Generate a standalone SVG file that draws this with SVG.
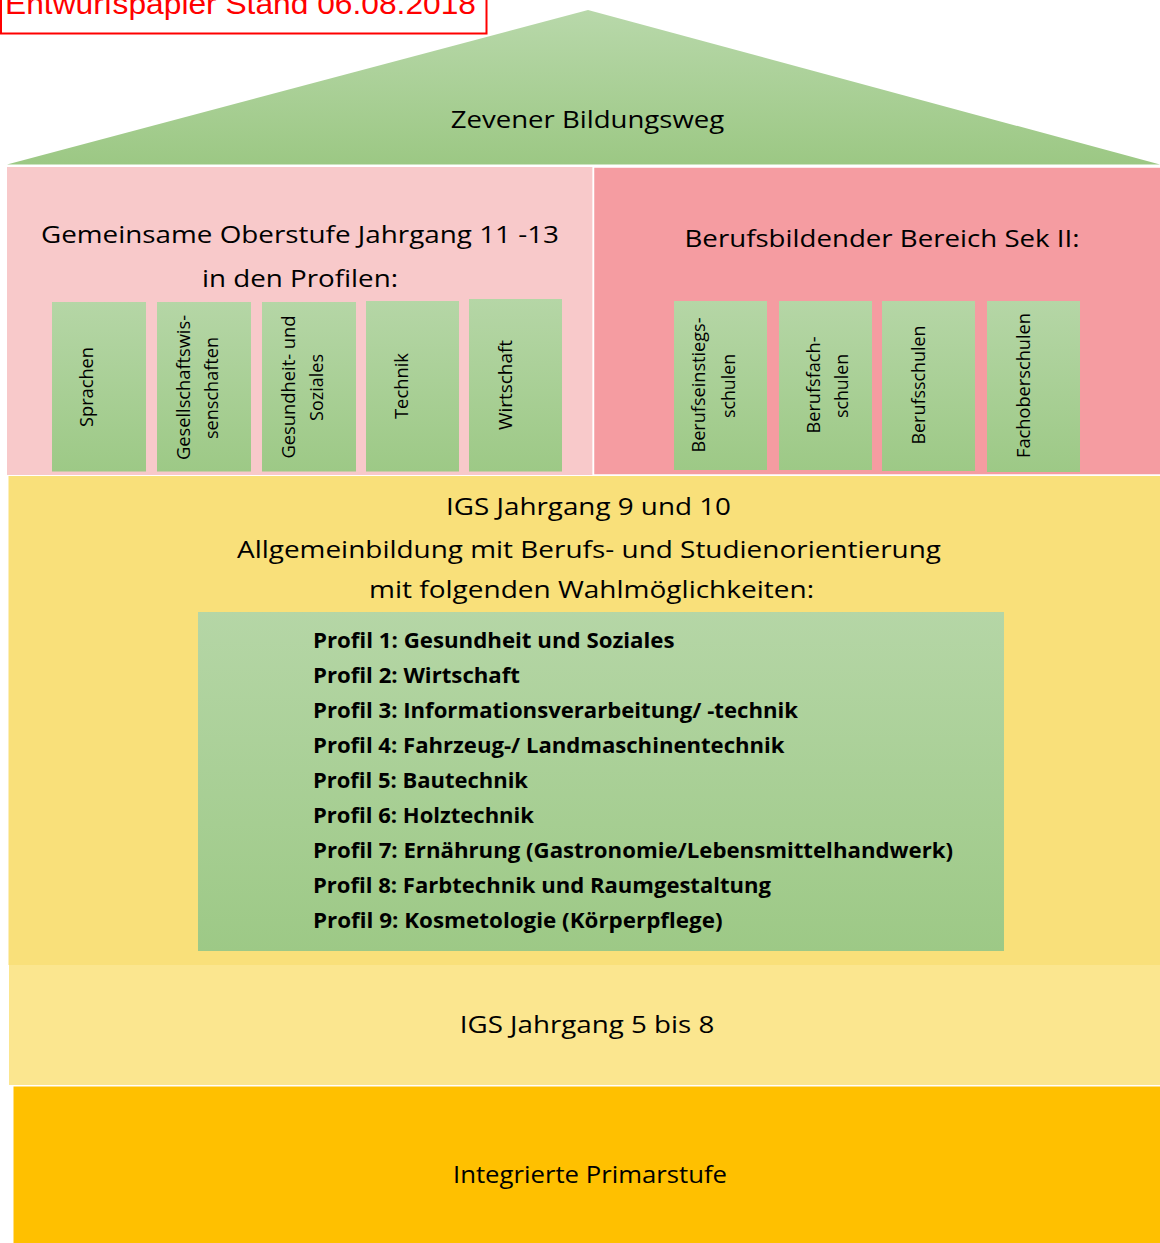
<svg xmlns="http://www.w3.org/2000/svg" width="1160" height="1243" viewBox="0 0 1160 1243">
  <defs>
    <linearGradient id="gTri" x1="0" y1="0" x2="0" y2="1">
      <stop offset="0" stop-color="#b8d8aa"/>
      <stop offset="1" stop-color="#9cc884"/>
    </linearGradient>
    <linearGradient id="gCol" x1="0" y1="0" x2="0" y2="1">
      <stop offset="0" stop-color="#b5d6a6"/>
      <stop offset="1" stop-color="#9dc986"/>
    </linearGradient>
    <style>
      .t { font-family: "Open Sans", "Noto Sans", sans-serif; font-size: 24px; fill: #000; text-anchor: middle; }
      .v { font-family: "Open Sans", "Noto Sans", sans-serif; font-size: 18px; fill: #000; text-anchor: middle; }
      .p { font-family: "Open Sans", "Noto Sans", sans-serif; font-size: 22px; font-weight: bold; fill: #000; }
      .col { fill: url(#gCol); }
    </style>
  </defs>
  <rect width="1160" height="1243" fill="#ffffff"/>

  <g id="label">
    <rect x="1" y="-20" width="485.5" height="53.5" fill="#ffffff" stroke="#ff0000" stroke-width="2"/>
    <text x="5" y="14" font-family="Liberation Sans, Arial, sans-serif" font-size="29" fill="#ff0000" textLength="471" lengthAdjust="spacingAndGlyphs">Entwurfspapier Stand 06.08.2018</text>
  </g>

  <g id="roof">
    <polygon points="588,10 7,164.5 1160,164.5" fill="url(#gTri)"/>
    <text class="t" x="587.5" y="128" textLength="273.5" lengthAdjust="spacingAndGlyphs">Zevener Bildungsweg</text>
  </g>

  <g id="oberstufe">
    <rect x="7" y="167" width="585.5" height="308" fill="#f8c9ca"/>
    <text class="t" x="300" y="243" textLength="518" lengthAdjust="spacingAndGlyphs">Gemeinsame Oberstufe Jahrgang 11 -13</text>
    <text class="t" x="300" y="286.5" textLength="196" lengthAdjust="spacingAndGlyphs">in den Profilen:</text>
  </g>

  <g id="col-sprachen">
    <rect class="col" x="52" y="302" width="94" height="169.5"/>
    <text class="v" transform="translate(93,387) rotate(-90)" textLength="80" lengthAdjust="spacingAndGlyphs">Sprachen</text>
  </g>
  <g id="col-gesellschaft">
    <rect class="col" x="157" y="302" width="94" height="169.5"/>
    <text class="v" transform="translate(190,387.5) rotate(-90)" textLength="145" lengthAdjust="spacingAndGlyphs">Gesellschaftswis-</text>
    <text class="v" transform="translate(218,388) rotate(-90)" textLength="102" lengthAdjust="spacingAndGlyphs">senschaften</text>
  </g>
  <g id="col-gesundheit">
    <rect class="col" x="262" y="302" width="94" height="169.5"/>
    <text class="v" transform="translate(294.5,387) rotate(-90)" textLength="143" lengthAdjust="spacingAndGlyphs">Gesundheit- und</text>
    <text class="v" transform="translate(323,387.5) rotate(-90)" textLength="67" lengthAdjust="spacingAndGlyphs">Soziales</text>
  </g>
  <g id="col-technik">
    <rect class="col" x="366" y="301" width="93" height="170.5"/>
    <text class="v" transform="translate(408,386) rotate(-90)" textLength="66" lengthAdjust="spacingAndGlyphs">Technik</text>
  </g>
  <g id="col-wirtschaft">
    <rect class="col" x="469" y="299" width="93" height="172.5"/>
    <text class="v" transform="translate(512,385) rotate(-90)" textLength="90" lengthAdjust="spacingAndGlyphs">Wirtschaft</text>
  </g>

  <g id="berufsbildend">
    <rect x="593.5" y="167" width="570" height="308" fill="#f59ca1" stroke="#ffffff" stroke-width="1.5"/>
    <text class="t" x="882" y="247" textLength="395" lengthAdjust="spacingAndGlyphs">Berufsbildender Bereich Sek II:</text>
  </g>

  <g id="col-berufseinstieg">
    <rect class="col" x="674" y="301" width="93" height="169"/>
    <text class="v" transform="translate(705,385) rotate(-90)" textLength="135" lengthAdjust="spacingAndGlyphs">Berufseinstiegs-</text>
    <text class="v" transform="translate(735,386) rotate(-90)" textLength="64" lengthAdjust="spacingAndGlyphs">schulen</text>
  </g>
  <g id="col-berufsfach">
    <rect class="col" x="779" y="301" width="93" height="169"/>
    <text class="v" transform="translate(820,385) rotate(-90)" textLength="97" lengthAdjust="spacingAndGlyphs">Berufsfach-</text>
    <text class="v" transform="translate(848,386) rotate(-90)" textLength="64" lengthAdjust="spacingAndGlyphs">schulen</text>
  </g>
  <g id="col-berufsschulen">
    <rect class="col" x="882" y="301" width="93" height="170"/>
    <text class="v" transform="translate(925,385) rotate(-90)" textLength="119" lengthAdjust="spacingAndGlyphs">Berufsschulen</text>
  </g>
  <g id="col-fachober">
    <rect class="col" x="987" y="301" width="93" height="171"/>
    <text class="v" transform="translate(1030,385.5) rotate(-90)" textLength="145" lengthAdjust="spacingAndGlyphs">Fachoberschulen</text>
  </g>

  <g id="igs-9-10">
    <rect x="8.5" y="476" width="1151.5" height="489" fill="#f9e07a"/>
    <text class="t" x="588.5" y="515" textLength="285" lengthAdjust="spacingAndGlyphs">IGS Jahrgang 9 und 10</text>
    <text class="t" x="589" y="558" textLength="704" lengthAdjust="spacingAndGlyphs">Allgemeinbildung mit Berufs- und Studienorientierung</text>
    <text class="t" x="591.5" y="598" textLength="445" lengthAdjust="spacingAndGlyphs">mit folgenden Wahlmöglichkeiten:</text>
  </g>

  <g id="profile">
    <rect x="198" y="612" width="806" height="339" fill="url(#gCol)"/>
    <text class="p" x="313" y="648" textLength="361.5" lengthAdjust="spacingAndGlyphs">Profil 1: Gesundheit und Soziales</text>
    <text class="p" x="313" y="683" textLength="207" lengthAdjust="spacingAndGlyphs">Profil 2: Wirtschaft</text>
    <text class="p" x="313" y="718" textLength="485" lengthAdjust="spacingAndGlyphs">Profil 3: Informationsverarbeitung/ -technik</text>
    <text class="p" x="313" y="753" textLength="471.5" lengthAdjust="spacingAndGlyphs">Profil 4: Fahrzeug-/ Landmaschinentechnik</text>
    <text class="p" x="313" y="788" textLength="215" lengthAdjust="spacingAndGlyphs">Profil 5: Bautechnik</text>
    <text class="p" x="313" y="823" textLength="221" lengthAdjust="spacingAndGlyphs">Profil 6: Holztechnik</text>
    <text class="p" x="313" y="858" textLength="640" lengthAdjust="spacingAndGlyphs">Profil 7: Ernährung (Gastronomie/Lebensmittelhandwerk)</text>
    <text class="p" x="313" y="893" textLength="458" lengthAdjust="spacingAndGlyphs">Profil 8: Farbtechnik und Raumgestaltung</text>
    <text class="p" x="313" y="928" textLength="409.5" lengthAdjust="spacingAndGlyphs">Profil 9: Kosmetologie (Körperpflege)</text>
  </g>

  <g id="igs-5-8">
    <rect x="9" y="965" width="1151" height="120" fill="#fbe68f"/>
    <text class="t" x="587" y="1033" textLength="254.5" lengthAdjust="spacingAndGlyphs">IGS Jahrgang 5 bis 8</text>
  </g>

  <g id="primarstufe">
    <rect x="13.5" y="1086.5" width="1146.5" height="156.5" fill="#ffc000"/>
    <text class="t" x="590" y="1183" textLength="274" lengthAdjust="spacingAndGlyphs">Integrierte Primarstufe</text>
  </g>

  <g id="connectors"/>
</svg>
